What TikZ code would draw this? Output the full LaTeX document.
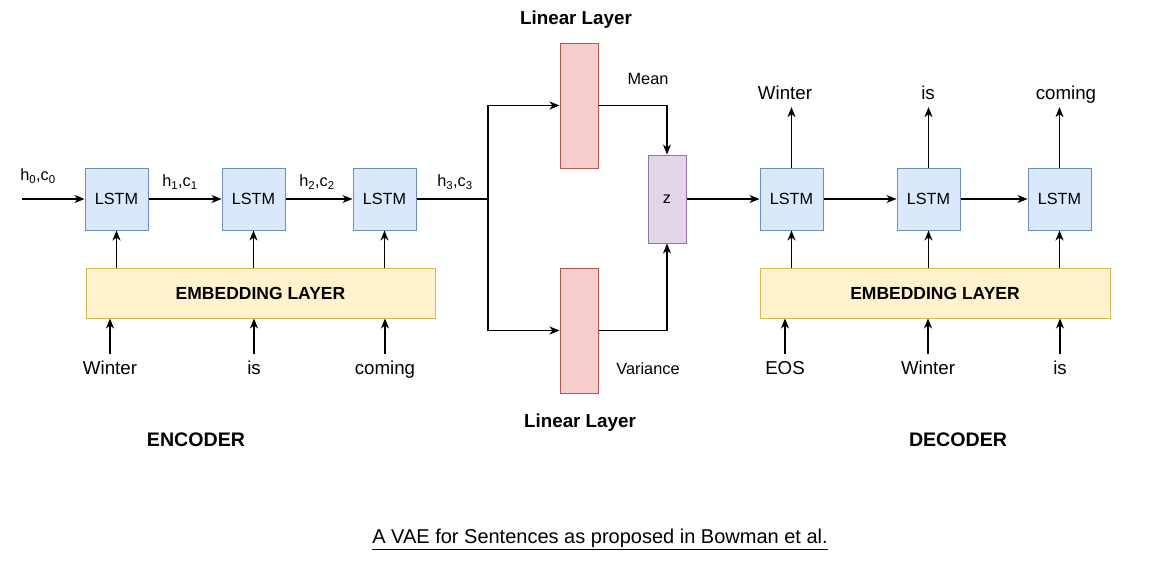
\documentclass[tikz,border=0pt]{standalone}
\usepackage{fontspec}
\setmainfont{Liberation Sans}
\usepackage{tikz}
\usetikzlibrary{arrows.meta}

\definecolor{lstmfill}{HTML}{DAE8FC}
\definecolor{lstmdraw}{HTML}{6C8EBF}
\definecolor{embfill}{HTML}{FFF2CC}
\definecolor{embdraw}{HTML}{D6B656}
\definecolor{linfill}{HTML}{F8CECC}
\definecolor{lindraw}{HTML}{B85450}
\definecolor{zfill}{HTML}{E1D5E7}
\definecolor{zdraw}{HTML}{9673A6}

\begin{document}
\begin{tikzpicture}[x=1pt,y=-1pt,>={Stealth[length=10pt,width=8pt,inset=3pt]},
      line width=1.2pt,
      lstm node/.style={rectangle,draw=lstmdraw,fill=lstmfill,line width=1pt,
        minimum width=63pt,minimum height=62pt,font=\fontsize{16.2}{19}\selectfont},
      emb node/.style={rectangle,draw=embdraw,fill=embfill,line width=1pt,
        minimum width=349pt,minimum height=50pt,font=\bfseries\fontsize{17.5}{21}\selectfont},
      lin node/.style={rectangle,draw=lindraw,fill=linfill,line width=1pt,
        minimum width=38pt,minimum height=125pt},
      z node/.style={rectangle,draw=zdraw,fill=zfill,line width=1pt,
        minimum width=38pt,minimum height=88pt,font=\fontsize{16.2}{19}\selectfont},
      word/.style={inner sep=1pt,text height=13pt,text depth=4pt,font=\fontsize{18.7}{22}\selectfont},
      state/.style={inner sep=1pt,font=\fontsize{16.3}{19}\selectfont},
      title/.style={inner sep=1pt,font=\bfseries\fontsize{18.8}{22}\selectfont}]

      \useasboundingbox (0,0) rectangle (1155,568);

      % encoder
      \node[lstm node] (e1) at (116.5,199) {LSTM};
      \node[lstm node] (e2) at (253.5,199) {LSTM};
      \node[lstm node] (e3) at (384.5,199) {LSTM};
      \node[emb node] (eemb) at (260.5,293) {EMBEDDING LAYER};
      \node[word] (ew1) at (110,370) {Winter};
      \node[word] (ew2) at (254,370) {is};
      \node[word] (ew3) at (385,370) {coming};
      \coordinate (in) at (22,199);
      \coordinate (split) at (488,199);

      \node[state] (s0) at (38,176) {h\textsubscript{0},c\textsubscript{0}};
      \node[state] (s1) at (180,182) {h\textsubscript{1},c\textsubscript{1}};
      \node[state] (s2) at (317,182) {h\textsubscript{2},c\textsubscript{2}};
      \node[state] (s3) at (455,182) {h\textsubscript{3},c\textsubscript{3}};

      % latent part
      \node[lin node] (mean) at (579,105.5) {};
      \node[lin node] (var) at (579,330.5) {};
      \node[z node] (z) at (667,199) {z};
      \node[title] (lintop) at (576,19.5) {Linear Layer};
      \node[title] (linbot) at (580,422.5) {Linear Layer};
      \node[state] (meanlbl) at (648,79) {Mean};
      \node[state] (varlbl) at (648,369) {Variance};

      % decoder
      \node[lstm node] (d1) at (791.5,199) {LSTM};
      \node[lstm node] (d2) at (928.5,199) {LSTM};
      \node[lstm node] (d3) at (1059.5,199) {LSTM};
      \node[emb node,minimum width=350pt] (demb) at (935,293) {EMBEDDING LAYER};
      \node[word] (dw1) at (785,370) {EOS};
      \node[word] (dw2) at (928,370) {Winter};
      \node[word] (dw3) at (1060,370) {is};
      \node[word] (o1) at (785,95) {Winter};
      \node[word] (o2) at (928,95) {is};
      \node[word] (o3) at (1066,95) {coming};

      \node[title,font=\bfseries\fontsize{19.6}{23}\selectfont] (enc) at (196,440) {ENCODER};
      \node[title,font=\bfseries\fontsize{19.6}{23}\selectfont] (dec) at (958,440) {DECODER};
      \node[inner sep=1pt,font=\fontsize{20}{24}\selectfont] (cap) at (600,539)
        {\underline{A VAE for Sentences as proposed in Bowman et al.}};

      % connectors
      \draw[->] (in) -- (e1);
      \draw[->] (e1) -- (e2);
      \draw[->] (e2) -- (e3);
      \draw (e3) -- (split);
      \draw[->] (split) |- (mean);
      \draw[->] (split) |- (var);
      \draw[->] (mean.east) -| (z.north);
      \draw[->] (var.east) -| (z.south);
      \draw[->] (z) -- (d1);
      \draw[->] (d1) -- (d2);
      \draw[->] (d2) -- (d3);

      \foreach \i in {1,2,3} {
        \draw[->] (e\i |- eemb.north) -- (e\i.south);
        \draw[->,shorten <=6pt] (ew\i) -- (ew\i |- eemb.south);
        \draw[->] (d\i |- demb.north) -- (d\i.south);
        \draw[->,shorten <=6pt] (dw\i) -- (dw\i |- demb.south);
        \draw[->,shorten >=2pt] (d\i.north) -- (d\i.north |- o\i.south);
      }
    \end{tikzpicture}
\end{document}
